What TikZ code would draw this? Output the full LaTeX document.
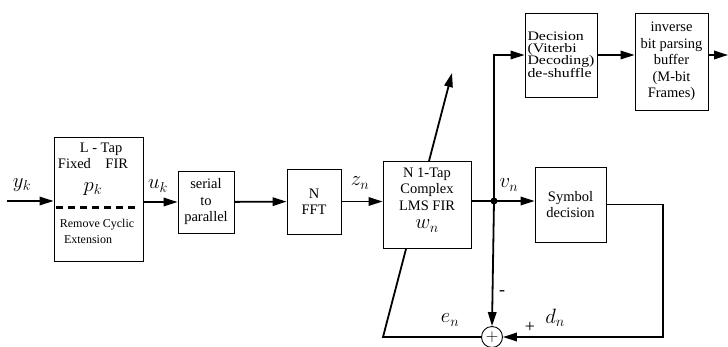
\documentclass[tikz,border=0pt]{standalone}
\usepackage{fontspec}
\setmainfont{Liberation Serif}
\newfontfamily\widefont[FakeStretch=1.22]{Liberation Serif}
\usetikzlibrary{positioning,calc,arrows.meta,backgrounds}

\newcommand{\boxfont}{\fontsize{14.5}{16.5}\selectfont}
\newcommand{\symfont}{\fontsize{20}{20}\selectfont}

\begin{document}
\begin{tikzpicture}[
    x=1pt, y=-1pt,
    blk/.style={rectangle, draw, fill=white, line width=0.9pt, inner sep=0pt, align=center, font=\boxfont},
    arrow/.style={-{Triangle[length=14pt,width=8.5pt]}, line width=1.8pt},
    wire/.style={line width=1.8pt},
    lbl/.style={inner sep=0pt, font=\symfont}
]
\useasboundingbox (0,0) rectangle (728,346);

% Blocks of the receiver chain
\node[blk, minimum width=89, minimum height=124] (ltap) at (98.5,199) {};
\node[font=\boxfont] (ltaptop) at (101,149) {L - Tap};
\node[font=\boxfont] (ltapfir) at (93,164) {Fixed\quad FIR};
\node[lbl] (pk) at (93,189) {$p_{k}$};
\draw[line width=3pt, dash pattern=on 7pt off 5pt] (56,207) -- (139,207);
\node[font=\fontsize{12}{14}\selectfont] (remove) at (97,225) {Remove Cyclic};
\node[font=\fontsize{12}{14}\selectfont] (ext) at (88,240) {Extension};

\node[blk, minimum width=56, minimum height=62] (serial) at (206,202) {serial\\to\\parallel};
\node[blk, minimum width=54, minimum height=65] (fft) at (314,201.5) {N\\FFT};
\node[blk, minimum width=88, minimum height=87] (lms) at (427,204.5) {};
\node[font=\boxfont, align=center] (lmstext) at (427,189) {N 1-Tap\\Complex\\LMS FIR};
\node[lbl] (wn) at (427,226) {$w_{n}$};
\node[blk, minimum width=71, minimum height=75] (sym) at (570.5,204.5) {Symbol\\decision};
\node[blk, minimum width=72, minimum height=84, align=left, font=\widefont\fontsize{13}{11.5}\selectfont] (dec) at (561,55) {Decision\\(Viterbi\\Decoding)\\de-shuffle};
\node[blk, minimum width=73, minimum height=97, font=\fontsize{14.5}{16.5}\selectfont] (inv) at (671.5,61.5) {inverse\\bit parsing\\buffer\\(M-bit\\Frames)};

\node[circle, draw, line width=0.9pt, minimum size=21, inner sep=0pt, fill=white, font=\fontsize{18}{18}\selectfont] (sum) at (492,337) {$+$};
\fill (494,201) circle (3.5pt);
\coordinate (dot) at (494,201);

\coordinate (in) at (7,201);
\coordinate (out) at (728,55);
\coordinate (dcorner) at (663,337);
\coordinate (ecorner) at (383,337);
\coordinate (etip) at (452,73);

% Signal path
\draw[arrow] (in) -- (ltap.west |- in);
\draw[arrow] (ltap.east |- serial.west) -- (serial.west);
\draw[arrow] (serial) -- (fft);
\draw[arrow] (fft.east) -- (lms.west |- fft.east);
\draw[wire] (lms.east |- dot) -- (dot);
\draw[arrow] (dot) -- (sym.west |- dot);
\draw[arrow] (dot) |- (dec.west);
\draw[arrow] (dec.east) -- (inv.west |- dec.east);
\draw[arrow] (inv.east |- out) -- (out);

% Error feedback
\draw[arrow] (dot) -- (sum.north);
\draw[arrow] (sym.east) -| (dcorner) -- (sum.east);
\begin{scope}[on background layer]
\draw[arrow] (sum.west) -- (ecorner) -- (etip);
\end{scope}

% Labels
\node[lbl] (yk) at (22,185) {$y_{k}$};
\node[lbl] (uk) at (158,186) {$u_{k}$};
\node[lbl] (zn) at (360,183) {$z_{n}$};
\node[lbl] (vn) at (509,185) {$v_{n}$};
\node[lbl] (en) at (450,320) {$e_{n}$};
\node[lbl] (dn) at (555,318) {$d_{n}$};
\node[font=\fontsize{18}{18}\selectfont] (plus) at (530,327) {+};
\node[font=\fontsize{18}{18}\selectfont] (minus) at (502,293) {-};

\end{tikzpicture}
\end{document}
